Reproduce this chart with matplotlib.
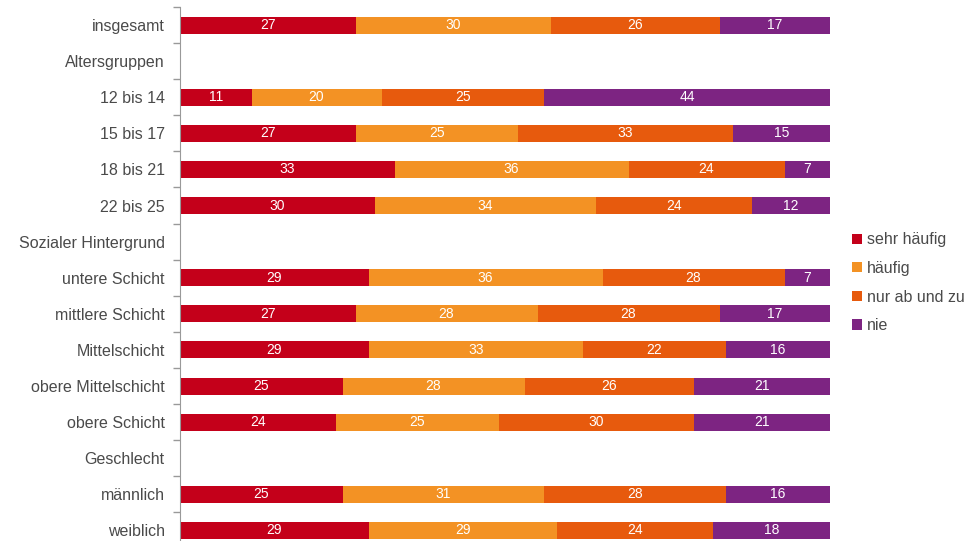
import matplotlib.pyplot as plt
import numpy as np

plt.rcParams['font.family'] = ['Liberation Sans', 'DejaVu Sans']

categories = ["insgesamt", "Altersgruppen", "12 bis 14", "15 bis 17", "18 bis 21", "22 bis 25",
              "Sozialer Hintergrund", "untere Schicht", "mittlere Schicht", "Mittelschicht",
              "obere Mittelschicht", "obere Schicht", "Geschlecht", "männlich", "weiblich"]
series_names = ["sehr häufig", "häufig", "nur ab und zu", "nie"]
# None = heading row without a bar
sehr_haeufig = [27, None, 11, 27, 33, 30, None, 29, 27, 29, 25, 24, None, 25, 29]
haeufig = [30, None, 20, 25, 36, 34, None, 36, 28, 33, 28, 25, None, 31, 29]
ab_und_zu = [26, None, 25, 33, 24, 24, None, 28, 28, 22, 26, 30, None, 28, 24]
nie = [17, None, 44, 15, 7, 12, None, 7, 17, 16, 21, 21, None, 16, 18]

colors = ["#c4001a", "#f39224", "#e75a0d", "#7d2482"]

fig = plt.figure(figsize=(9.75, 5.41), dpi=100)
n = len(categories)
row_px = 36.1
top_px = 7
h_px = n * row_px
ax = fig.add_axes([180 / 975, (541 - top_px - h_px) / 541, 650 / 975, h_px / 541])

y = np.arange(n)
left = np.zeros(n)
for name, vals, col in zip(series_names, [sehr_haeufig, haeufig, ab_und_zu, nie], colors):
    v = np.array([0 if x is None else x for x in vals], dtype=float)
    ax.barh(y, v, left=left, height=0.47, color=col, label=name)
    for i in range(n):
        if vals[i] is not None:
            ax.text(left[i] + v[i] / 2, y[i], str(vals[i]), ha="center", va="center",
                    color="white", fontsize=10)
    left += v

ax.set_xlim(0, 100)
ax.set_ylim(n - 0.5, -0.5)
ax.set_yticks(y)
ax.set_yticklabels(categories, fontsize=11.5, color="#4a4a4a")
ax.set_yticks(np.arange(n + 1) - 0.5, minor=True)
ax.tick_params(axis="y", which="major", length=0, pad=11)
ax.tick_params(axis="y", which="minor", length=5, color="#999999", width=1)
ax.set_xticks([])
for s in ["top", "right", "bottom"]:
    ax.spines[s].set_visible(False)
ax.spines["left"].set_color("#999999")

fig.legend(loc="upper left", bbox_to_anchor=(838 / 975, 1 - 218 / 541), frameon=False,
           handlelength=0.6, handleheight=0.6, handletextpad=0.3, labelspacing=0.85,
           fontsize=11.5, labelcolor="#4a4a4a")

fig.savefig("out.png", dpi=100)
